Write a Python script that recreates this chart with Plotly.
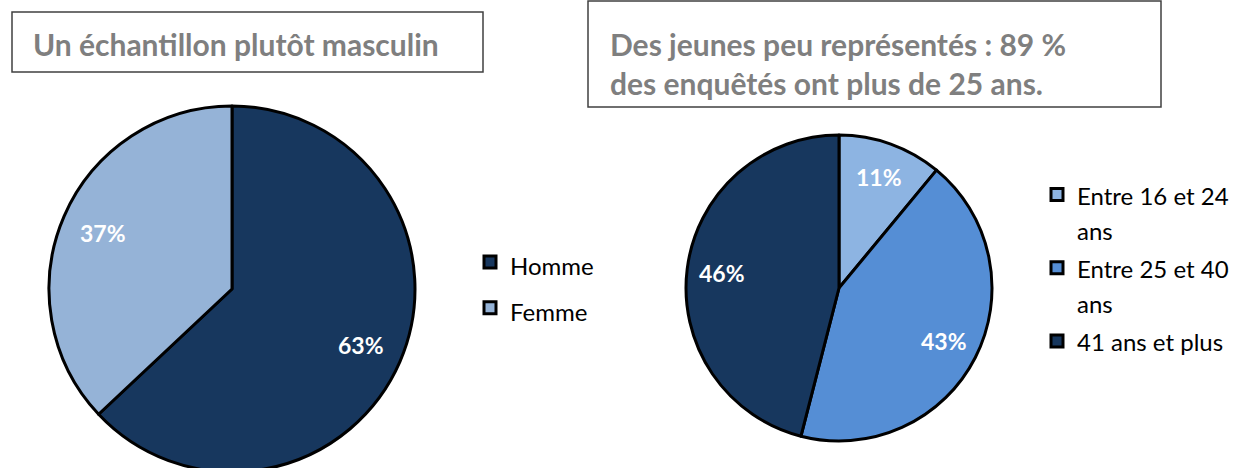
import math
import plotly.graph_objects as go

W, H = 1237, 480  # page is clipped to 468 px by the viewer

# ---- data ----
sex_labels = ["Homme", "Femme"]
sex_values = [63, 37]
sex_colors = ["#17375E", "#95B3D7"]

age_labels = ["Entre 16 et 24<br>ans", "Entre 25 et 40<br>ans", "41 ans et plus"]
age_values = [11, 43, 46]
age_colors = ["#8DB4E2", "#558ED5", "#17375E"]

title_left = "Un échantillon plutôt masculin"
title_right = "Des jeunes peu représentés : 89 %<br>des enquêtés ont plus de 25 ans."


def px(x):
    return x / W


def py(y):
    return 1 - y / H


def dom(cx, cy, r):
    return dict(x=[px(cx - r), px(cx + r)], y=[py(cy + r), py(cy - r)])


def leg_text(labels, size):
    return [f"<span style='font-size:{size}px'>{l}</span>" for l in labels]


fig = go.Figure()

LABEL_FONT = dict(family="Lato", size=23, color="white", weight="bold")


def add_pie(labels, values, colors, cx, cy, r, legend):
    fig.add_trace(go.Pie(
        labels=labels, values=values, sort=False, direction="clockwise", rotation=0,
        marker=dict(colors=colors, line=dict(color="black", width=3)),
        textinfo="none", domain=dom(cx, cy, r), legend=legend,
        hoverinfo="label+percent",
    ))
    # data labels along each slice bisector (best-fit style placement)
    total = sum(values)
    cum = 0
    for v in values:
        ang = 2 * math.pi * (cum + v / 2) / total
        cum += v
        d = 0.77 * r
        lx = cx + d * math.sin(ang)
        ly = cy - d * math.cos(ang)
        fig.add_annotation(text=f"{v}%", xref="paper", yref="paper",
                           x=px(lx), y=py(ly), xanchor="center", yanchor="middle",
                           showarrow=False, font=LABEL_FONT)


add_pie(leg_text(sex_labels, 24), sex_values, sex_colors, 232, 289, 183, "legend")
add_pie(leg_text(age_labels, 24), age_values, age_colors, 839, 288, 153, "legend2")

# title boxes
fig.add_shape(type="rect", xref="paper", yref="paper",
              x0=px(12), x1=px(483), y0=py(72), y1=py(12),
              line=dict(color="#404040", width=1.5), fillcolor="white", layer="below")
fig.add_shape(type="rect", xref="paper", yref="paper",
              x0=px(588), x1=px(1161), y0=py(107), y1=py(1),
              line=dict(color="#404040", width=1.5), fillcolor="white", layer="below")

TITLE_FONT = dict(family="Lato", size=30, color="#7F7F7F", weight="bold")
fig.add_annotation(text=title_left, xref="paper", yref="paper", x=px(31), y=py(44),
                   xanchor="left", yanchor="middle", showarrow=False,
                   font=TITLE_FONT, align="left")
fig.add_annotation(text=title_right, xref="paper", yref="paper", x=px(608), y=py(64),
                   xanchor="left", yanchor="middle", showarrow=False,
                   font=TITLE_FONT, align="left")

fig.update_layout(
    width=W, height=H, margin=dict(l=0, r=0, t=0, b=0),
    paper_bgcolor="white", plot_bgcolor="white",
    showlegend=True,
    legend=dict(x=px(470), y=py(285), xanchor="left", yanchor="middle",
                font=dict(family="Lato", size=33, color="black"), bgcolor="rgba(0,0,0,0)"),
    legend2=dict(x=px(1037), y=py(268), xanchor="left", yanchor="middle", valign="top",
                 font=dict(family="Lato", size=27, color="black"), bgcolor="rgba(0,0,0,0)"),
)

fig.write_html("out.html", config={"displayModeBar": False},
               post_script="document.body.style.margin='0';document.body.style.overflow='hidden';document.documentElement.style.overflow='hidden';")
